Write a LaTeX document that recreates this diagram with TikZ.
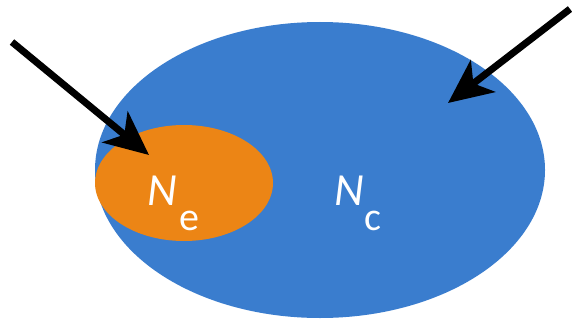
\documentclass[tikz,border=0pt]{standalone}
\usepackage{fontspec}
\setmainfont{Carlito}
\usetikzlibrary{arrows.meta}
\definecolor{bigblue}{HTML}{3A7DCE}
\definecolor{orng}{HTML}{EC8515}
\begin{document}
\begin{tikzpicture}[x=1pt,y=-1pt,
  lbl/.style={inner sep=0pt,text=white,anchor=base west,font=\fontsize{46}{50}\selectfont},
  sub/.style={inner sep=0pt,text=white,anchor=base west,font=\fontsize{40}{44}\selectfont},
  bigarrow/.style={line width=7pt,-{Stealth[length=44pt,width=40pt,inset=12pt]}}]
\useasboundingbox (0,0) rectangle (572,321);
\fill[bigblue] (320,170) ellipse [x radius=225, y radius=148];
\fill[orng] (184,183) ellipse [x radius=89, y radius=58];
\node[lbl] (Ne) at (147,205) {\itshape N};
\node[sub] (e) at (179,230) {e};
\node[lbl] (Nc) at (334,205) {\itshape N};
\node[sub] (c) at (364,230) {c};
\coordinate (t1) at (12,42);
\coordinate (h1) at (149,155);
\coordinate (t2) at (570,9);
\coordinate (h2) at (448,103);
\draw[bigarrow] (t1) -- (h1);
\draw[bigarrow] (t2) -- (h2);
\end{tikzpicture}
\end{document}
